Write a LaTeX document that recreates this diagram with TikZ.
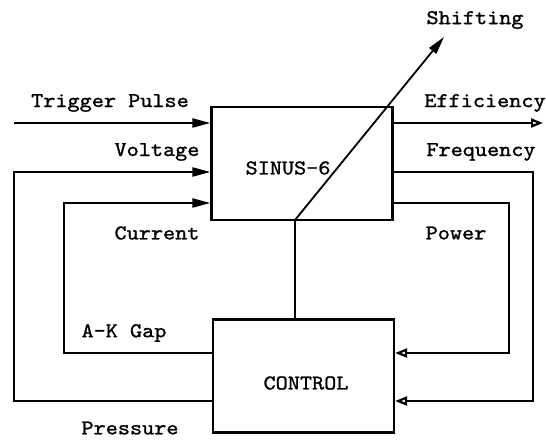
\documentclass[tikz,border=0pt]{standalone}
\usepackage{fontspec}
\setmonofont{lmmono10-regular.otf}[FakeStretch=1.1, FakeBold=1.2]
\usetikzlibrary{arrows.meta}

\begin{document}
\begin{tikzpicture}[x=1pt, y=-1pt, line width=2.2pt,
  font=\ttfamily\fontsize{21}{24}\selectfont,
  block/.style={draw, minimum width=181pt, minimum height=113pt, inner sep=0pt},
  inarrow/.style={-{Triangle[length=18pt, width=9pt]}},
  outarrow/.style={-{Triangle[open, length=12pt, width=9pt]}}]
  \useasboundingbox (0,0) rectangle (546,439);

  % blocks
  \node[block] (sinus) at (302,163.5) {};
  \node[block] (control) at (303.5,376) {};
  \node (sinuslbl) at (288,168) {SINUS-6};
  \node (controllbl) at (306,383) {CONTROL};

  % points of the loops
  \coordinate (trig) at (14,123);
  \coordinate (volt) at (14,172);
  \coordinate (pres) at (14,401);
  \coordinate (curr) at (64,203);
  \coordinate (gap)  at (64,353);
  \coordinate (eff)  at (543,123);
  \coordinate (freq) at (533,172);
  \coordinate (freqback) at (533,401);
  \coordinate (pow)  at (509,203);
  \coordinate (powback) at (509,353);
  \coordinate (tap)  at (295,220);
  \coordinate (shift) at (444,37);

  % inputs
  \draw[inarrow] (trig) -- (sinus.west |- trig);
  \draw[inarrow] (control.west |- pres) -- (pres) -- (volt) -- (sinus.west |- volt);
  \draw[inarrow] (control.west |- gap) -- (gap) -- (curr) -- (sinus.west |- curr);

  % outputs
  \draw[outarrow] (sinus.east |- eff) -- (eff);
  \draw[outarrow] (sinus.east |- freq) -- (freq) -- (freqback) -- (control.east |- freqback);
  \draw[outarrow] (sinus.east |- pow) -- (pow) -- (powback) -- (control.east |- powback);

  \draw (tap) -- (control.north -| tap);
  \draw[inarrow, line width=1.8pt] (tap) -- (shift);

  % labels
  \node (triglbl) at (110,103) {Trigger Pulse};
  \node (voltlbl) at (157,152) {Voltage};
  \node (currlbl) at (157,233) {Current};
  \node (gaplbl)  at (124,333) {A-K Gap};
  \node[inner sep=1pt] (preslbl) at (130,428) {Pressure};
  \node (shiftlbl) at (475,20) {Shifting};
  \node (efflbl)  at (485,103) {Efficiency};
  \node (freqlbl) at (481,152) {Frequency};
  \node (powlbl)  at (456,233) {Power};
\end{tikzpicture}
\end{document}
